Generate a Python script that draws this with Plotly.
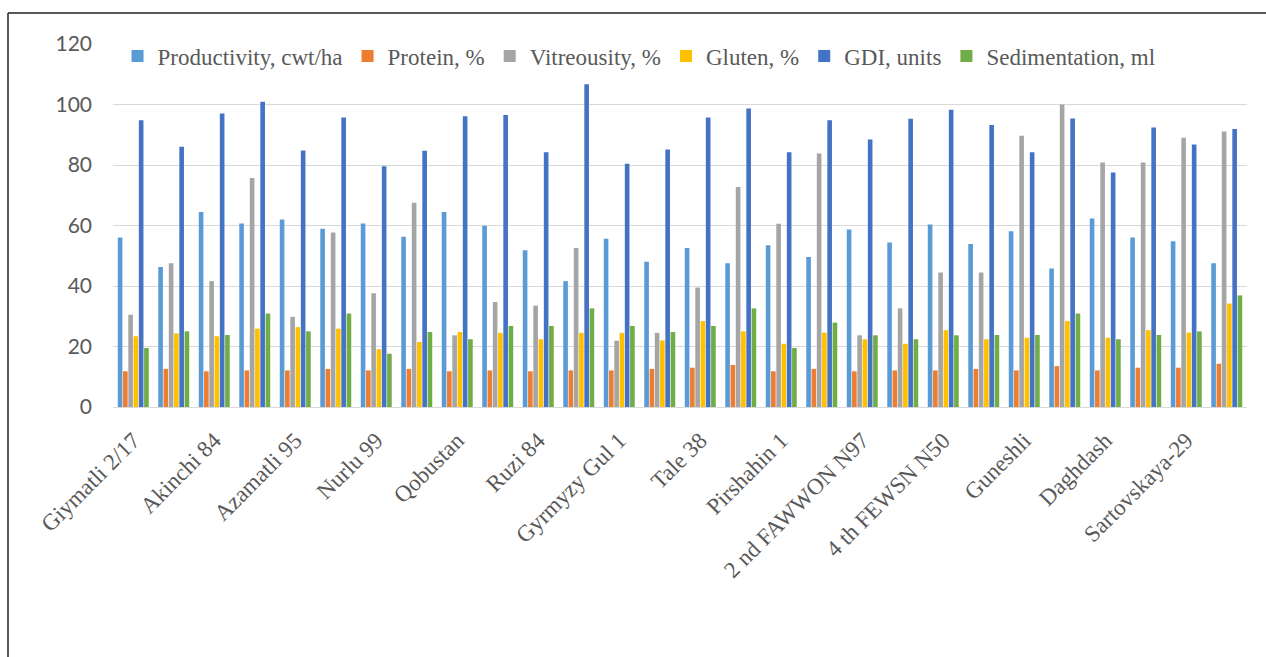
import plotly.graph_objects as go

# Wheat varieties (every other one is labelled on the axis)
label_names = [
    "Giymatli 2/17", "Akinchi 84", "Azamatli 95", "Nurlu 99", "Qobustan",
    "Ruzi 84", "Gyrmyzy Gul 1", "Tale 38", "Pirshahin 1", "2 nd FAWWON N97",
    "4 th FEWSN N50", "Guneshli", "Daghdash", "Sartovskaya-29",
]
n_groups = 28
label_positions = list(range(0, n_groups, 2))

productivity = [56.0, 46.3, 64.5, 60.7, 62.0, 58.9, 60.7, 56.3, 64.5, 59.9,
                51.8, 41.6, 55.6, 48.0, 52.6, 47.5, 53.5, 49.6, 58.7, 54.4,
                60.3, 53.9, 58.1, 45.8, 62.3, 56.0, 54.8, 47.5]
protein = [11.8, 12.6, 11.8, 12.1, 12.1, 12.6, 12.1, 12.6, 11.8, 12.1,
           11.8, 12.1, 12.1, 12.6, 13.0, 13.9, 11.8, 12.6, 11.8, 12.1,
           12.1, 12.6, 12.1, 13.5, 12.1, 13.0, 13.0, 14.3]
vitreousity = [30.5, 47.5, 41.6, 75.7, 29.8, 57.7, 37.6, 67.5, 23.7, 34.7,
               33.5, 52.6, 21.9, 24.5, 39.5, 72.7, 60.6, 83.8, 23.7, 32.6,
               44.5, 44.5, 89.7, 100.0, 80.8, 80.8, 89.0, 91.1]
gluten = [23.4, 24.3, 23.4, 25.9, 26.4, 25.9, 19.1, 21.5, 24.8, 24.5,
          22.4, 24.5, 24.5, 22.0, 28.4, 25.0, 20.9, 24.6, 22.4, 20.9,
          25.4, 22.4, 22.9, 28.4, 22.9, 25.4, 24.6, 34.2]
gdi = [94.8, 86.0, 97.0, 100.9, 84.8, 95.7, 79.6, 84.7, 96.1, 96.5,
       84.2, 106.7, 80.4, 85.1, 95.7, 98.7, 84.2, 94.8, 88.4, 95.3,
       98.3, 93.2, 84.2, 95.4, 77.5, 92.4, 86.8, 91.9]
sedimentation = [19.5, 25.0, 23.8, 30.9, 25.0, 30.9, 17.6, 24.8, 22.4, 26.8,
                 26.8, 32.6, 26.8, 24.8, 26.8, 32.6, 19.5, 27.9, 23.7, 22.4,
                 23.7, 23.8, 23.8, 30.9, 22.4, 23.8, 25.0, 36.9]

series = [
    ("Productivity, cwt/ha", productivity, "#5B9BD5"),
    ("Protein, %", protein, "#ED7D31"),
    ("Vitreousity, %", vitreousity, "#A5A5A5"),
    ("Gluten, %", gluten, "#FFC000"),
    ("GDI, units", gdi, "#4472C4"),
    ("Sedimentation, ml", sedimentation, "#70AD47"),
]

x_pos = list(range(n_groups))

fig = go.Figure()
for name, vals, color in series:
    fig.add_trace(go.Bar(
        x=x_pos, y=vals, name=name,
        marker=dict(color=color, line=dict(width=0)),
    ))

W, H = 1266, 657
ML, MR, MT, MB = 113, 19, 44, 250
plot_w = W - ML - MR
plot_h = H - MT - MB

serif = "Liberation Serif, Times New Roman, serif"
grey_text = "#595959"

fig.update_layout(
    width=W, height=H,
    margin=dict(l=ML, r=MR, t=MT, b=MB, pad=0),
    paper_bgcolor="white",
    plot_bgcolor="white",
    barmode="group",
    bargap=0.22,
    bargroupgap=0.12,
    showlegend=True,
    legend=dict(
        orientation="h",
        x=0.004, xanchor="left",
        y=(plot_h - 12) / plot_h, yanchor="middle",
        font=dict(family=serif, size=23, color=grey_text),
        bgcolor="rgba(0,0,0,0)",
        itemwidth=30,
        traceorder="normal",
    ),
    xaxis=dict(
        range=[-0.5, n_groups - 0.5],
        tickmode="array",
        tickvals=label_positions,
        ticktext=label_names,
        tickangle=-45,
        tickfont=dict(family=serif, size=23, color=grey_text),
        ticklabelstandoff=10,
        showgrid=False,
        showline=True,
        linecolor="#D9D9D9",
        linewidth=1,
        ticks="",
        zeroline=False,
    ),
    yaxis=dict(
        range=[0, 120],
        dtick=20,
        tickfont=dict(family="Lato, sans-serif", size=21, color=grey_text),
        showgrid=True,
        gridcolor="#D9D9D9",
        gridwidth=1,
        zeroline=False,
        showline=False,
        ticks="",
        ticklabelstandoff=20,
    ),
)

# Outer chart frame (left and top edges visible)
frame_left = (8 - ML) / plot_w
frame_top = (H - MB - 13) / plot_h
fig.add_shape(type="line", xref="paper", yref="paper",
              x0=frame_left, x1=frame_left, y0=frame_top, y1=-2,
              line=dict(color="#222222", width=1.5))
fig.add_shape(type="line", xref="paper", yref="paper",
              x0=frame_left, x1=2, y0=frame_top, y1=frame_top,
              line=dict(color="#222222", width=1.5))

fig.write_html("out.html")
